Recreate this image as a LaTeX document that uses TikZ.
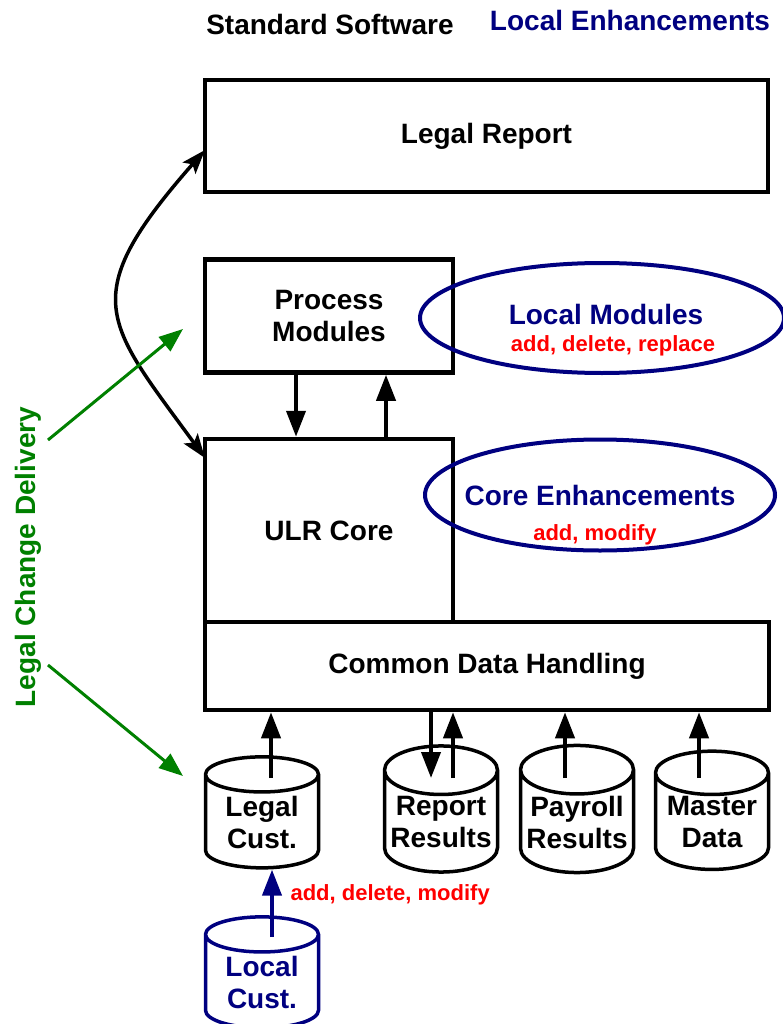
\documentclass[tikz,border=0pt]{standalone}
\usepackage{fontspec}
\setmainfont{Liberation Sans}
\usetikzlibrary{arrows.meta,shapes.geometric}
\definecolor{navy}{RGB}{0,0,128}
\definecolor{dgreen}{RGB}{0,128,0}
\definecolor{lred}{RGB}{255,0,0}
\begin{document}
\begin{tikzpicture}[x=1pt,y=-1pt,
  font=\bfseries\fontsize{28}{32}\selectfont,
  box/.style={draw, line width=4.5pt, inner sep=0pt, align=center},
  oval/.style={draw=navy, ellipse, line width=4pt, inner sep=0pt},
  cyl/.style={draw, cylinder, shape border rotate=90, aspect=0.48,
     line width=3.5pt, minimum width=113pt, minimum height=111pt,
     inner sep=0pt, align=center},
  redtxt/.style={text=lred, font=\bfseries\fontsize{22}{26}\selectfont},
  arr/.style={line width=4pt, -{Triangle[length=26pt,width=19pt]}},
  garr/.style={draw=dgreen, fill=dgreen, line width=3pt, -{Triangle[length=24pt,width=18pt]}},
  carr/.style={line width=3.5pt, {Stealth[length=24pt,width=17pt,inset=5pt]}-{Stealth[length=24pt,width=17pt,inset=5pt]}}
]
\useasboundingbox (0,0) rectangle (783,1024);

% headings
\node[anchor=base] (std) at (330,35) {Standard Software};
\node[anchor=base, text=navy] (loc) at (630,31) {Local Enhancements};

% boxes
\node[box, minimum width=563pt, minimum height=112pt] (lr) at (486.5,136) {Legal Report};
\node[box, minimum width=248pt, minimum height=113pt] (pm) at (329,316) {Process\\Modules};
\node[box, minimum width=248pt, minimum height=183pt] (ulr) at (329,530.5) {ULR Core};
\node[box, minimum width=564pt, minimum height=88pt] (cdh) at (487,666) {Common Data Handling};

% ellipses
\node[oval, minimum width=364pt, minimum height=110pt] (lm) at (602,318) {};
\node[anchor=base, text=navy] (lmt) at (606,324) {Local Modules};
\node[anchor=base, redtxt] (lmr) at (613,351) {add, delete, replace};
\node[oval, minimum width=350pt, minimum height=111pt] (ce) at (600,495) {};
\node[anchor=base, text=navy] (cet) at (600,505) {Core Enhancements};
\node[anchor=base, redtxt] (cer) at (595,540) {add, modify};

% cylinders
\node[cyl] (lc) at (262,822) {Legal\\Cust.};
\node[cyl] (rr) at (441,822) {Report\\Results};
\node[cyl] (pr) at (577,822) {Payroll\\Results};
\node[cyl] (md) at (712,822) {Master\\Data};
\node[cyl, draw=navy, text=navy] (lcu) at (262,982) {Local\\Cust.};

% arrows between process modules and core
\coordinate (xd) at (296,0);
\coordinate (xu) at (386,0);
\draw[arr] (pm.south -| xd) -- (ulr.north -| xd);
\draw[arr] (ulr.north -| xu) -- (pm.south -| xu);

% arrows from stores
\coordinate (s1) at (271,778);
\coordinate (s2) at (431,778);
\coordinate (s3) at (453,778);
\coordinate (s4) at (565,778);
\coordinate (s5) at (699,778);
\draw[arr] (s1) -- (cdh.south -| s1);
\draw[arr] (cdh.south -| s2) -- (s2);
\draw[arr] (s3) -- (cdh.south -| s3);
\draw[arr] (s4) -- (cdh.south -| s4);
\draw[arr] (s5) -- (cdh.south -| s5);

% local cust arrow
\coordinate (lcs) at (272,937);
\draw[arr, draw=navy, fill=navy] (lcs) -- (lc.bottom -| lcs);
\node[anchor=base west, redtxt] (adm) at (287,900) {add, delete, modify};

% curved arrow
\coordinate (c1) at (205,150);
\coordinate (c2) at (205,458);
\draw[carr] (c1) .. controls (75,298) and (105,321) .. (c2);

% legal change delivery
\node[rotate=90, text=dgreen] (lcd) at (28,557) {Legal Change Delivery};
\coordinate (g1s) at (48,440);
\coordinate (g1e) at (183,329);
\coordinate (g2s) at (48,665);
\coordinate (g2e) at (183,776);
\draw[garr] (g1s) -- (g1e);
\draw[garr] (g2s) -- (g2e);
\end{tikzpicture}
\end{document}
